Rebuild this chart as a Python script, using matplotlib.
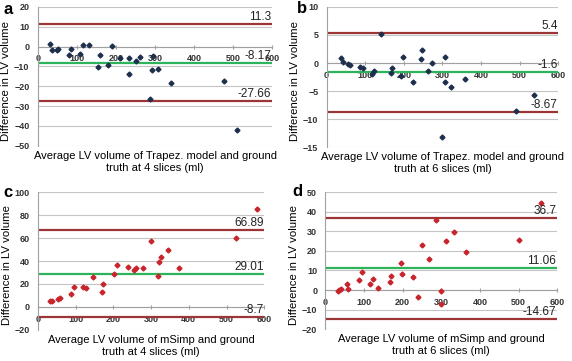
import numpy as np
import matplotlib
matplotlib.use("Agg")
import matplotlib.pyplot as plt

plt.rcParams['font.family'] = ['Liberation Sans', 'DejaVu Sans']

# panel a: Trapez. model, 4 slices
a_x = [31, 36, 49, 53, 80, 85, 108, 117, 132, 155, 160, 180, 191, 210, 233, 233,
       252, 262, 287, 293, 296, 308, 341, 477, 510]
a_y = [1.3, -1.5, -1.7, -1.2, -4.4, -1.3, -3.7, 0.6, 0.7, -10.4, -4.0, -9.3, 0.3,
       -5.8, -5.7, -13.8, -7.3, -5.1, -26.2, -11.6, -4.6, -11.4, -18.3, -17.3, -42.2]
a_lines = [11.3, -8.17, -27.66]

# panel b: Trapez. model, 6 slices
b_x = [37, 42, 55, 60, 86, 93, 117, 123, 142, 167, 169, 193, 197, 225, 244, 247,
       263, 273, 299, 307, 307, 322, 358, 490, 536]
b_y = [0.95, 0.1, -0.2, -0.35, -0.7, -0.8, -2.0, -1.4, 5.2, -1.8, -0.8, -2.3, 1.1,
       -3.3, 0.7, 2.3, -1.4, 0.0, -13.2, 1.0, -3.3, -4.3, -2.8, -8.6, -5.7]
b_lines = [5.4, -1.6, -8.67]

# panel c: mSimp, 4 slices
c_x = [32, 37, 54, 58, 87, 96, 121, 127, 147, 169, 174, 202, 211, 240, 256, 260,
       278, 299, 319, 322, 326, 346, 374, 525, 582]
c_y = [4.9, 4.9, 7.2, 7.5, 11, 17.4, 17.4, 16.2, 26.4, 13, 20, 29, 36.5, 34.8, 32,
       33.6, 34.2, 57.7, 27, 38.8, 43.5, 49.3, 34.2, 60.3, 84.9]
c_lines = [66.89, 29.01, -8.7]

# panel d: mSimp, 6 slices
d_x = [32, 36, 39, 56, 59, 87, 95, 116, 123, 136, 166, 170, 196, 198, 226, 240,
       251, 268, 286, 300, 300, 313, 334, 364, 500, 558]
d_y = [-0.7, 0.0, 0.4, 3.3, 0.6, 5.2, 9.3, 3.0, 5.7, 1.0, 4.0, 7.1, 13.6, 8.1, 6.9,
       -3.6, 22.9, 15.8, 35.5, -0.7, -7.2, 25.0, 29.7, 19.2, 25.6, 44.4]
d_lines = [36.7, 11.06, -14.67]

trapez_lbl = "Average LV volume of Trapez. model and ground\ntruth at {} slices (ml)"
msimp_lbl = "Average LV volume of mSimp and ground\ntruth at {} slices (ml)"

RED = "#9C3636"
GREEN = "#2DB35A"

fig = plt.figure(figsize=(5.72, 3.61), dpi=100)

# letter position is in figure pixels (x, y from top)
panels = [
    ("a", (3, 2), [0.066, 0.596, 0.410, 0.385], a_x, a_y, a_lines, (-50, 20, 10), "#1E2F4D", trapez_lbl.format(4)),
    ("b", (297, 1), [0.571, 0.592, 0.405, 0.389], b_x, b_y, b_lines, (-15, 10, 5), "#1E2F4D", trapez_lbl.format(6)),
    ("c", (3, 185), [0.066, 0.086, 0.396, 0.382], c_x, c_y, c_lines, (-20, 100, 20), "#C8242C", msimp_lbl.format(4)),
    ("d", (292, 184), [0.569, 0.088, 0.405, 0.380], d_x, d_y, d_lines, (-20, 50, 10), "#C8242C", msimp_lbl.format(6)),
]

for letter, lpos, rect, xs, ys, lines, (ymin, ymax, step), mcol, xlab in panels:
    ax = fig.add_axes(rect)
    ax.set_xlim(0, 600)
    ax.set_ylim(ymin, ymax)
    ax.set_yticks(np.arange(ymin, ymax + step / 2, step))
    ax.set_xticks(np.arange(0, 601, 100))
    ax.yaxis.grid(True, color="#C4C4C4", lw=0.8)
    ax.set_axisbelow(True)

    for s in ["top", "right"]:
        ax.spines[s].set_visible(False)
    ax.spines["left"].set_color("#A0A0A0")
    ax.spines["bottom"].set_position(("data", 0))
    ax.spines["bottom"].set_color("#A0A0A0")
    ax.tick_params(axis="y", length=0, pad=6, labelsize=6.5, colors="#333333")
    ax.tick_params(axis="x", length=3, direction="inout", pad=4, labelsize=6.5,
                   colors="#A0A0A0", labelcolor="#333333")
    for lbl in ax.get_xticklabels() + ax.get_yticklabels():
        lbl.set_fontweight("bold")

    upper, mean, lower = lines
    for val, col in [(upper, RED), (mean, GREEN), (lower, RED)]:
        ax.axhline(val, color=col, lw=1.6, zorder=2)
        ax.text(598, val + (ymax - ymin) * 0.008, f"{val:g}", ha="right", va="bottom",
                fontsize=8.5, color="#222222", zorder=4)

    ax.plot(xs, ys, linestyle="none", marker="D", ms=2.5, color=mcol, zorder=3)

    ax.set_ylabel("Difference in LV volume", fontsize=8.2, labelpad=2)
    ax.yaxis.set_label_coords(-0.115, 0.47, transform=ax.transAxes)
    ax.set_xlabel(xlab, fontsize=8, linespacing=1.25)
    ax.xaxis.set_label_coords(0.5, -0.035, transform=ax.transAxes)
    ax.xaxis.label.set_verticalalignment("top")

    fig.text(lpos[0] / 572, 1 - lpos[1] / 361, letter, fontsize=12,
             fontweight="bold", ha="left", va="top")

fig.savefig("out.png", dpi=100)
